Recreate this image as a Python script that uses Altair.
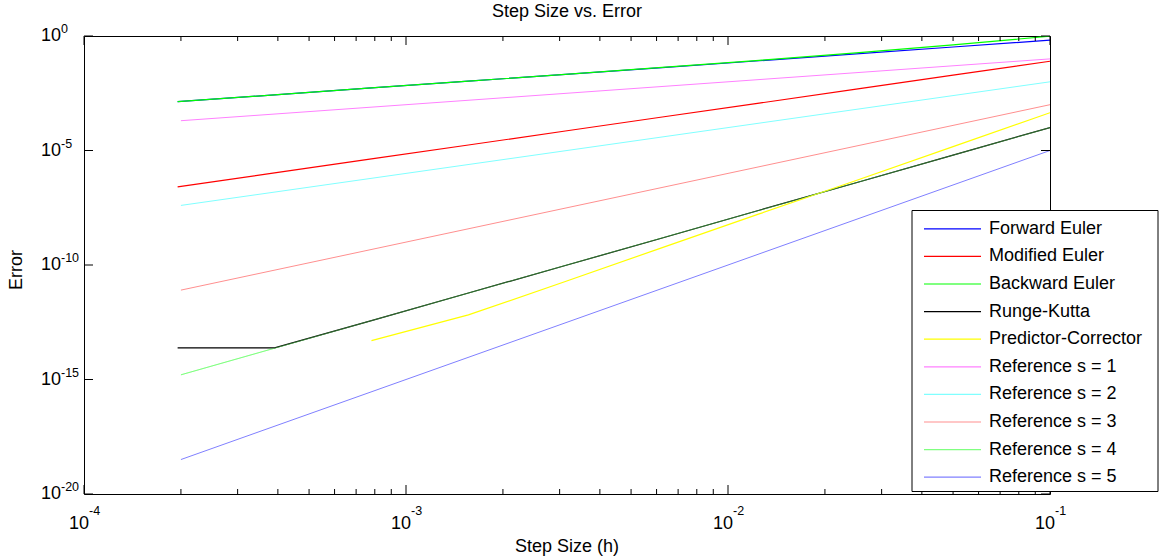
import altair as alt
import pandas as pd

# Step sizes h = 0.1 / 2^k, k = 0..9
h = [1.0e-1, 5.0e-2, 2.5e-2, 1.25e-2, 6.25e-3, 3.125e-3, 1.5625e-3,
     7.8125e-4, 3.90625e-4, 1.953125e-4]

# Global error of each method at those step sizes
forward_euler = [6.6e-1, 3.3e-1, 1.66e-1, 8.3e-2, 4.17e-2, 2.09e-2, 1.07e-2,
                 5.4e-3, 2.7e-3, 1.35e-3]
modified_euler = [7.9e-2, 1.95e-2, 4.8e-3, 1.17e-3, 2.9e-4, 7.1e-5, 1.74e-5,
                  4.3e-6, 1.05e-6, 2.6e-7]
backward_euler = [9.8e-1, 4.1e-1, 1.82e-1, 8.7e-2, 4.27e-2, 2.11e-2, 1.07e-2,
                  5.4e-3, 2.7e-3, 1.35e-3]
runge_kutta = [1.0e-4, 6.3e-6, 3.9e-7, 2.45e-8, 1.51e-9, 9.5e-11, 6.0e-12,
               3.7e-13, 2.4e-14, 2.4e-14]
predictor_corrector = [4.47e-4, 1.48e-5, 4.9e-7, 1.7e-8, 5.75e-10, 1.9e-11,
                       6.6e-13, 5.0e-14, None, None]

# Reference slopes h^s
ref_h = [1e-1, 1e-2, 1e-3, 2e-4]
ref_s1 = [1e-1, 1e-2, 1e-3, 2e-4]
ref_s2 = [1e-2, 1e-4, 1e-6, 4e-8]
ref_s3 = [1e-3, 1e-6, 1e-9, 8e-12]
ref_s4 = [1e-4, 1e-8, 1e-12, 1.6e-15]
ref_s5 = [1e-5, 1e-10, 1e-15, 3.2e-19]

x_label_vals = [1e-4, 1e-3, 1e-2, 1e-1]
x_label_exp = ["-4", "-3", "-2", "-1"]
y_label_vals = [1e0, 1e-5, 1e-10, 1e-15, 1e-20]
y_label_exp = ["0", "-5", "-10", "-15", "-20"]

legend_names = ["Forward Euler", "Modified Euler", "Backward Euler", "Runge-Kutta",
                "Predictor-Corrector", "Reference s = 1", "Reference s = 2",
                "Reference s = 3", "Reference s = 4", "Reference s = 5"]
legend_colors = ["#0000ff", "#ff0000", "#00ff00", "#000000", "#ffff00",
                 "#ff80ff", "#80ffff", "#ff8f8f", "#80ff80", "#8080ff"]

W, H = 966, 458
FONT = "Liberation Sans"
BIG = 18
SMALL = 12.5

xs = alt.Scale(type="log", domain=[1e-4, 1e-1], nice=False)
ys = alt.Scale(type="log", domain=[1e-20, 1], nice=False)


def series(xv, yv, color, width, opacity=1.0):
    df = pd.DataFrame({"h": xv, "err": yv}).dropna()
    return alt.Chart(df).mark_line(color=color, strokeWidth=width, opacity=opacity,
                                   clip=True).encode(
        x=alt.X("h:Q", scale=xs, axis=None),
        y=alt.Y("err:Q", scale=ys, axis=None),
    )


layers = []
# reference lines underneath the method curves
for vals, col in zip([ref_s1, ref_s2, ref_s3, ref_s4, ref_s5], legend_colors[5:]):
    layers.append(series(ref_h, vals, col, 1))
for vals, col in zip([forward_euler, modified_euler, backward_euler, runge_kutta,
                      predictor_corrector], legend_colors[:5]):
    layers.append(series(h, vals, col, 1.2))
# s = 4 reference again, faintly over the Runge-Kutta curve it coincides with
layers.append(series(ref_h, ref_s4, legend_colors[8], 1, opacity=0.4))

# inward tick marks
minor_x = [m * 10.0 ** e for e in (-4, -3, -2) for m in range(2, 10)]
minor_df = pd.DataFrame({"v": minor_x})
major_df = pd.DataFrame({"v": x_label_vals})
ymaj_df = pd.DataFrame({"v": y_label_vals})
tick_x = alt.X("v:Q", scale=xs, axis=None)
tick_y = alt.Y("v:Q", scale=ys, axis=None)
for df, ln in [(minor_df, 5), (major_df, 9)]:
    layers.append(alt.Chart(df).mark_rule(color="black").encode(
        x=tick_x, y=alt.value(H), y2=alt.value(H - ln)))
    layers.append(alt.Chart(df).mark_rule(color="black").encode(
        x=tick_x, y=alt.value(0), y2=alt.value(ln)))
layers.append(alt.Chart(ymaj_df).mark_rule(color="black").encode(
    y=tick_y, x=alt.value(0), x2=alt.value(9)))
layers.append(alt.Chart(ymaj_df).mark_rule(color="black").encode(
    y=tick_y, x=alt.value(W), x2=alt.value(W - 9)))

# tick labels as 10 with a raised exponent
xl = pd.DataFrame({"v": x_label_vals, "e": x_label_exp, "b": ["10"] * 4})
layers.append(alt.Chart(xl).mark_text(align="right", baseline="middle", dx=5,
                                      font=FONT, fontSize=BIG).encode(
    x=tick_x, y=alt.value(H + 30), text="b:N"))
layers.append(alt.Chart(xl).mark_text(align="left", baseline="alphabetic", dx=5,
                                      font=FONT, fontSize=SMALL).encode(
    x=tick_x, y=alt.value(H + 21), text="e:N"))
yl = pd.DataFrame({"v": y_label_vals, "e": y_label_exp, "b": ["10"] * 5})
layers.append(alt.Chart(yl).mark_text(align="right", baseline="middle", dx=-23,
                                      font=FONT, fontSize=BIG).encode(
    y=tick_y, x=alt.value(0), text="b:N"))
layers.append(alt.Chart(yl).mark_text(align="left", baseline="alphabetic", dx=-23, dy=-3,
                                      font=FONT, fontSize=SMALL).encode(
    y=tick_y, x=alt.value(0), text="e:N"))

# titles
one = pd.DataFrame({"t": ["Step Size vs. Error"]})
layers.append(alt.Chart(one).mark_text(font=FONT, fontSize=BIG, baseline="middle").encode(
    x=alt.value(W / 2), y=alt.value(-24), text="t:N"))
layers.append(alt.Chart(pd.DataFrame({"t": ["Step Size (h)"]})).mark_text(
    font=FONT, fontSize=BIG, baseline="middle").encode(
    x=alt.value(W / 2), y=alt.value(H + 53), text="t:N"))
layers.append(alt.Chart(pd.DataFrame({"t": ["Error"]})).mark_text(
    font=FONT, fontSize=BIG, baseline="middle", angle=270).encode(
    x=alt.value(-67), y=alt.value(234), text="t:N"))

# legend box
LX0, LX1, LY0, LY1 = 828, 1074, 174.5, 455.5
layers.append(alt.Chart(one).mark_rect(fill="white", stroke="black", strokeWidth=1).encode(
    x=alt.value(LX0), x2=alt.value(LX1), y=alt.value(LY0), y2=alt.value(LY1)))
for i, (name, col) in enumerate(zip(legend_names, legend_colors)):
    ly = 192.8 + 27.6 * i
    d = pd.DataFrame({"t": [name]})
    layers.append(alt.Chart(d).mark_rule(color=col, strokeWidth=1.2).encode(
        x=alt.value(840), x2=alt.value(897), y=alt.value(ly)))
    layers.append(alt.Chart(d).mark_text(align="left", baseline="middle", font=FONT,
                                         fontSize=BIG).encode(
        x=alt.value(905), y=alt.value(ly), text="t:N"))

chart = alt.layer(*layers).properties(
    width=W, height=H,
    autosize=alt.AutoSizeParams(type="none"),
    padding={"left": 84, "top": 36, "right": 109, "bottom": 64},
    background="white",
).configure_view(stroke="black", strokeWidth=1)

chart.save("out.html", embed_options={"renderer": "svg", "actions": False})
